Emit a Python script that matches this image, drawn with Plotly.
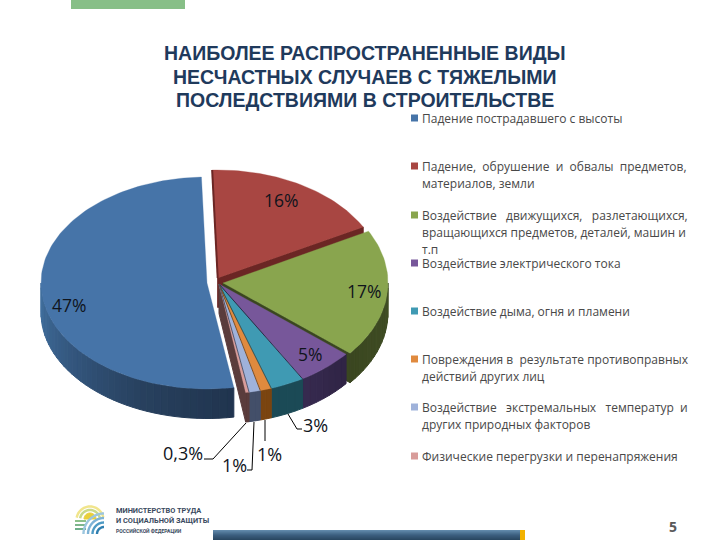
import math
import plotly.graph_objects as go

TITLE_LINES = ["НАИБОЛЕЕ РАСПРОСТРАНЕННЫЕ ВИДЫ", "НЕСЧАСТНЫХ СЛУЧАЕВ С ТЯЖЕЛЫМИ", "ПОСЛЕДСТВИЯМИ В СТРОИТЕЛЬСТВЕ"]
title_line_y = [53, 77, 100]

categories = [
    "Падение пострадавшего с высоты",
    "Падение, обрушение и обвалы предметов, материалов, земли",
    "Воздействие движущихся, разлетающихся, вращающихся предметов, деталей, машин и т.п",
    "Воздействие электрического тока",
    "Воздействие дыма, огня и пламени",
    "Повреждения в результате противоправных действий других лиц",
    "Воздействие экстремальных температур и других природных факторов",
    "Физические перегрузки и перенапряжения",
]
values = [47, 16, 17, 5, 3, 1, 1, 0.3]
value_labels = ["47%", "16%", "17%", "5%", "3%", "1%", "1%", "0,3%"]

# styles
top_colors = ["#4674A8", "#A84642", "#89A54E", "#77579A", "#3F9AB3", "#E08A3E", "#9FB2DA", "#D89C9A"]
rim_stops = [
    ["#20344E", "#28415F", "#345880", "#42709F"],
    ["#6B2624", "#6B2624"],
    ["#414F25", "#3A4620"],
    ["#2F2444", "#372A50"],
    ["#1B4A56", "#1B4A56"],
    ["#7A4410", "#7A4410"],
    ["#434F69", "#434F69"],
    ["#5A3C3C", "#5A3C3C"],
]
edge_colors = ["#20344E", "#6B2624", "#3A4620", "#2A2340", "#1B4A56", "#7A4410", "#434F69", "#5A3C3C"]

# geometry of the projected pie (pixels of the 720x540 canvas)
START_ANGLE = 170.7
DEPTH = 29.5
centers = [(207, 283), (217.7, 278), (223, 283), (219, 284), (219, 284), (219, 284), (219, 284), (219, 284)]
radii = [(166, 106), (165, 108), (165, 110), (165, 110), (165, 110), (165, 110), (165, 110), (165, 110)]
WALL_COLOR = "#5A3C3C"

label_xy = [(69, 305), (281, 200), (364, 291), (310, 354), (315, 425), (269, 454), (234, 465), (183, 453)]
label_sizes = [17.5, 17.5, 17.5, 17.5, 18, 18, 18, 18]
leaders = [
    [(288, 414), (297, 429), (302, 429)],
    [(265, 420), (265, 441)],
    [(254, 422), (252, 470), (247, 470)],
    [(246, 423), (213, 459), (204, 459)],
]

# legend text, by line (nbsp widens the justified lines)
N = "\u00a0"
legend_lines = [
    (118, "Падение пострадавшего с высоты"),
    (166, f"Падение,{N}{N}обрушение{N}{N}и{N}{N}обвалы{N}{N}предметов,"),
    (183, "материалов, земли"),
    (215, f"Воздействие{N}{N}{N}движущихся,{N}{N}{N}разлетающихся,"),
    (232, "вращающихся предметов, деталей, машин и"),
    (249, "т.п"),
    (263, "Воздействие электрического тока"),
    (311, "Воздействие дыма, огня и пламени"),
    (359, f"Повреждения{N}в{N}{N}результате{N}противоправных"),
    (376, "действий других лиц"),
    (407, f"Воздействие{N}{N}{N}экстремальных{N}{N}{N}температур{N}{N}и"),
    (424, "других природных факторов"),
    (456, "Физические перегрузки и перенапряжения"),
]
legend_swatch_y = [118, 166, 215, 263, 311, 359, 407, 456]

footer_lines = [
    ("МИНИСТЕРСТВО ТРУДА", 510, 7.4),
    ("И СОЦИАЛЬНОЙ ЗАЩИТЫ", 520, 7.4),
    ("РОССИЙСКОЙ ФЕДЕРАЦИИ", 530, 5),
]


def hex_rgb(c):
    return tuple(int(c[i:i + 2], 16) for i in (1, 3, 5))


def lerp_color(stops, t):
    if len(stops) == 1:
        return stops[0]
    p = max(0, min(1, t)) * (len(stops) - 1)
    i = min(int(p), len(stops) - 2)
    f = p - i
    a, b = hex_rgb(stops[i]), hex_rgb(stops[i + 1])
    return "rgb(%d,%d,%d)" % tuple(round(a[k] + (b[k] - a[k]) * f) for k in range(3))


def pt(i, deg, dy=0.0):
    cx, cy = centers[i]
    rx, ry = radii[i]
    r = math.radians(deg)
    return cx + rx * math.sin(r), cy - ry * math.cos(r) + dy


fig = go.Figure()


def poly(points, color, lw=1.0):
    xs = [p[0] for p in points] + [points[0][0]]
    ys = [p[1] for p in points] + [points[0][1]]
    fig.add_trace(go.Scatter(x=xs, y=ys, mode="lines", fill="toself", fillcolor=color,
                             line=dict(color=color, width=lw), hoverinfo="skip", showlegend=False))


def seg_line(points, color, width):
    fig.add_trace(go.Scatter(x=[p[0] for p in points], y=[p[1] for p in points], mode="lines",
                             line=dict(color=color, width=width), hoverinfo="skip", showlegend=False))


total = sum(values)
spans = []
a = START_ANGLE
for idx, v in enumerate(values):
    b = a + v / total * 360
    spans.append((a, b))
    a = b - 360 if b > 300 else b


def draw_rim(i):
    a0, a1 = spans[i]
    # parts of the outer wall facing the viewer: 90..270
    lo, hi = max(a0, 90), min(a1, 270)
    if hi <= lo:
        return
    n = max(2, int((hi - lo) / 2.5))
    for k in range(n):
        s = lo + (hi - lo) * k / n
        e = lo + (hi - lo) * (k + 1) / n
        ang = [s, (s + e) / 2, e]
        pts = [pt(i, d) for d in ang] + [pt(i, d, DEPTH) for d in reversed(ang)]
        poly(pts, lerp_color(rim_stops[i], (k + 0.5) / n))


def draw_top(i):
    a0, a1 = spans[i]
    n = max(6, int((a1 - a0) / 1.5))
    pts = [centers[i]] + [pt(i, a0 + (a1 - a0) * k / n) for k in range(n + 1)]
    poly(pts, top_colors[i], lw=0.3)


def draw_end_wall(i, color, deg):
    c = centers[i]
    e = pt(i, deg)
    poly([c, e, (e[0], e[1] + DEPTH), (c[0], c[1] + DEPTH)], color)


# red
draw_end_wall(1, edge_colors[1], spans[1][1])
draw_top(1)
seg_line([pt(1, spans[1][0]), centers[1]], edge_colors[1], 2)
# green
draw_rim(2)
draw_end_wall(2, edge_colors[2], spans[2][1])
draw_top(2)
# purple and the narrow slices
for i in [3, 4, 5, 6, 7]:
    draw_rim(i)
draw_end_wall(7, WALL_COLOR, spans[7][1])
for i in [3, 4, 5, 6, 7]:
    draw_top(i)
for i in [3, 4, 5, 6]:
    seg_line([centers[i], pt(i, spans[i][1])], edge_colors[i], 0.9)
# blue
draw_rim(0)
draw_top(0)

# leader lines
for l in leaders:
    seg_line(l, "#000000", 1)

annotations = []
for y, txt in zip(title_line_y, TITLE_LINES):
    annotations.append(dict(x=365, y=y, text=txt, showarrow=False, xanchor="center", yanchor="middle",
                            font=dict(family="Liberation Sans", size=19.5, color="#1F3A5C", weight="bold")))
for (x, y), txt, sz in zip(label_xy, value_labels, label_sizes):
    annotations.append(dict(x=x, y=y, text=txt, showarrow=False, xanchor="center", yanchor="middle",
                            font=dict(family="Open Sans", size=sz, color="#10141c")))
for y, txt in legend_lines:
    annotations.append(dict(x=420, y=y, text=txt, showarrow=False, xanchor="left", yanchor="middle",
                            font=dict(family="Open Sans", size=12, color="#484848")))
for txt, y, sz in footer_lines:
    annotations.append(dict(x=114, y=y, text=txt, showarrow=False, xanchor="left", yanchor="middle",
                            font=dict(family="Roboto", size=sz, color="#3A4A60", weight="bold")))
annotations.append(dict(x=673, y=526, text="5", showarrow=False, xanchor="center", yanchor="middle",
                        font=dict(family="Open Sans", size=14, color="#595959", weight="bold")))

shapes = [dict(type="rect", x0=71, x1=185, y0=0, y1=9, fillcolor="#87BF87", line_width=0, layer="below")]
for y, c in zip(legend_swatch_y, top_colors):
    shapes.append(dict(type="rect", x0=411, x1=418, y0=y - 3.5, y1=y + 3.5, fillcolor=c, line_width=0))

# footer bar
for k in range(10):
    shapes.append(dict(type="rect", x0=213, x1=520, y0=530 + k, y1=531 + k,
                       fillcolor=lerp_color(["#6088AA", "#3C5F80", "#2A4863"], k / 9), line_width=0))
shapes.append(dict(type="rect", x0=520, x1=525, y0=530, y1=540, fillcolor="#F2B200", line_width=0))


def arc_path(cx, cy, r, a0, a1, n=24):
    pts = []
    for k in range(n + 1):
        t = math.radians(a0 + (a1 - a0) * k / n)
        pts.append((cx + r * math.cos(t), cy - r * math.sin(t)))
    return "M " + " L ".join(f"{x:.2f},{y:.2f}" for x, y in pts)


# logo
for r, col, w in [(13.5, "#F1E58C", 2.5), (10, "#C9D98A", 2.5)]:
    shapes.append(dict(type="path", path=arc_path(90, 520, r, 10, 170), line=dict(color=col, width=w)))
shapes.append(dict(type="path", path=arc_path(90, 519, 6, 0, 180) + " Z", fillcolor="#E9CF3A",
                   line=dict(color="#E9CF3A", width=1)))
for y, col in [(521, "#8CC08A"), (525, "#7DB58C"), (529, "#6FAE8A")]:
    shapes.append(dict(type="line", x0=75, x1=86, y0=y, y1=y, line=dict(color=col, width=2)))
for r, col in [(7, "#2F7FB0"), (11.5, "#4E9AC4"), (16, "#7DB2D6"), (20.5, "#9CC6DE")]:
    shapes.append(dict(type="path", path=arc_path(104, 534, r, 90, 180), line=dict(color=col, width=2.4)))

fig.update_layout(
    width=720, height=540, autosize=False,
    margin=dict(l=0, r=0, t=0, b=0),
    paper_bgcolor="white", plot_bgcolor="white",
    showlegend=False,
    xaxis=dict(range=[0, 720], visible=False, fixedrange=True),
    yaxis=dict(range=[540, 0], visible=False, fixedrange=True),
    annotations=annotations, shapes=shapes,
)
fig.write_html("out.html", config=dict(displayModeBar=False),
               post_script="document.body.style.margin='0';document.documentElement.style.overflow='hidden';")
